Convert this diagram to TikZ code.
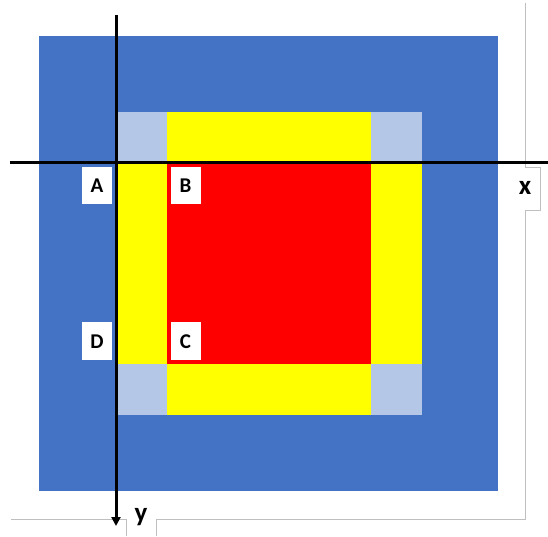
\documentclass[tikz,border=0pt]{standalone}
\usepackage{fontspec}
\setmainfont{Carlito}
\usetikzlibrary{arrows.meta}

\definecolor{outerblue}{HTML}{4472C4}
\definecolor{cornerblue}{HTML}{B4C7E7}
\definecolor{bandyellow}{HTML}{FFFF00}
\definecolor{innerred}{HTML}{FF0000}
\definecolor{framegray}{HTML}{BFBFBF}

\begin{document}
\begin{tikzpicture}[x=1pt,y=-1pt,
    corner/.style={inner sep=0pt,fill=white,minimum width=30pt,minimum height=37pt,
      text height=14pt,text depth=0pt,font=\fontsize{21}{21}\selectfont\bfseries},
    axislabel/.style={inner sep=0pt,text height=12.5pt,text depth=6.7pt,
      font=\fontsize{27}{27}\selectfont\bfseries},
    axis/.style={line width=3pt,black}]
  \useasboundingbox (0,0) rectangle (548,536);

  % squares
  \fill[outerblue] (39,36) rectangle (498,491);
  \fill[bandyellow] (117,112) rectangle (422,415);
  \fill[cornerblue] (117,112) rectangle (167,162);
  \fill[cornerblue] (371,112) rectangle (422,162);
  \fill[cornerblue] (117,364) rectangle (167,415);
  \fill[cornerblue] (371,364) rectangle (422,415);
  \fill[innerred] (167,162) rectangle (371,364);

  % frame
  \draw[framegray,line width=1pt] (525.7,3) -- (525.7,167) -- (540,167) -- (540,210)
    -- (525.7,210) -- (525.7,519) -- (156,519) -- (156,536);
  \draw[framegray,line width=1pt] (11,519) -- (126,519) -- (126,536);

  % axes
  \coordinate (xs) at (10,162.5);
  \coordinate (xe) at (548,162.5);
  \coordinate (ys) at (116,15);
  \coordinate (ye) at (116,526);
  \draw[axis] (xs) -- (xe);
  \draw[axis,-{Triangle[length=9pt,width=9pt]}] (ys) -- (ye);
  \node[axislabel] (xl) at (525,192) {x};
  \node[axislabel] (yl) at (141,519) {y};

  \node[corner] (A) at (97,185.5) {A};
  \node[corner] (B) at (185.5,185.5) {B};
  \node[corner,minimum height=38pt] (D) at (97,341) {D};
  \node[corner,minimum height=38pt] (C) at (185.5,341) {C};
\end{tikzpicture}
\end{document}
